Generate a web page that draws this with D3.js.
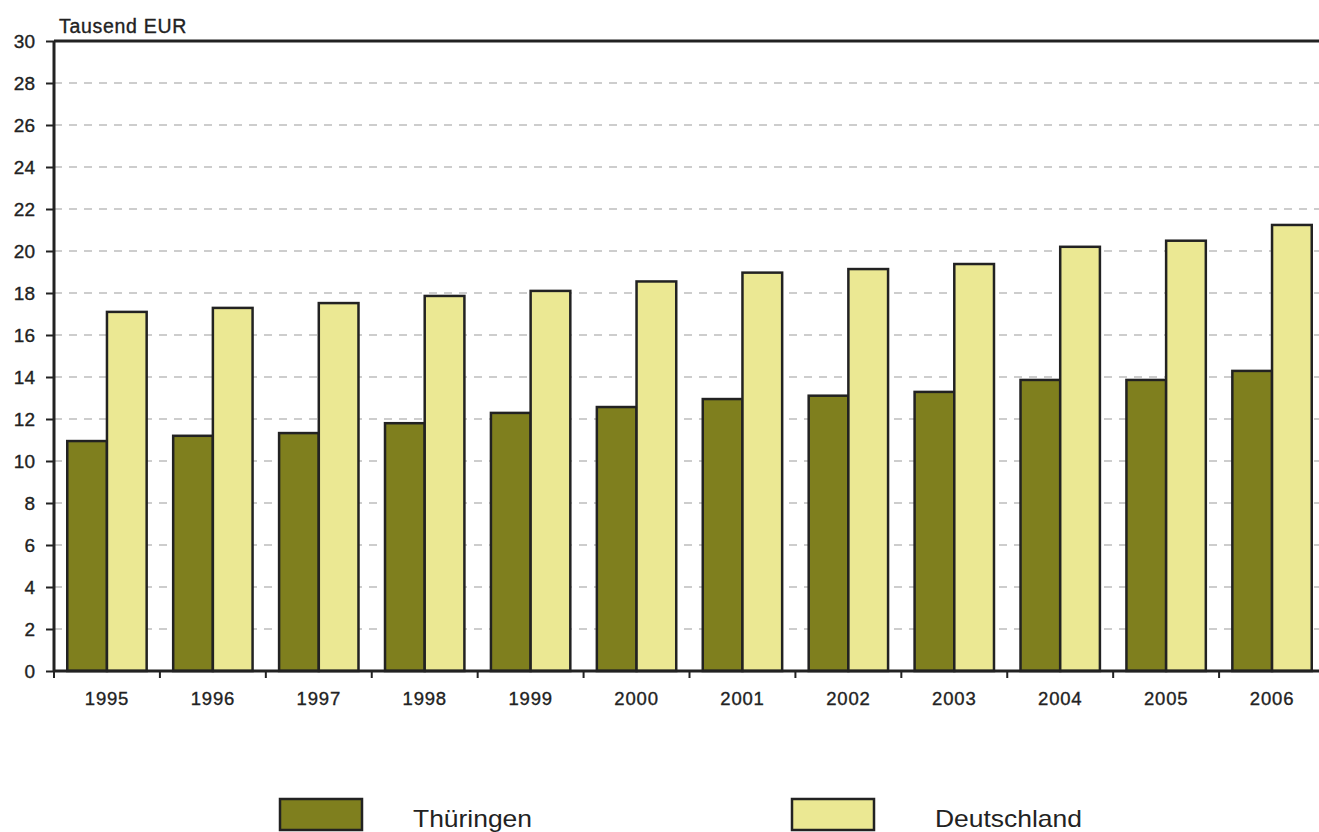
<!DOCTYPE html>
<html><head><meta charset="utf-8">
<script src="https://cdn.jsdelivr.net/npm/d3@7"></script>
<style>body{margin:0;background:#fff}svg{display:block}text{font-family:"Liberation Sans",Arial,sans-serif;fill:#222;stroke:#222;stroke-width:0.35px}text.leg{stroke:none}</style>
</head><body>
<script>
const years = ["1995","1996","1997","1998","1999","2000","2001","2002","2003","2004","2005","2006"];
const thueringen = [10.95,11.2,11.33,11.8,12.29,12.57,12.95,13.11,13.29,13.86,13.86,14.29];
const deutschland = [17.1,17.29,17.52,17.86,18.1,18.55,18.97,19.14,19.38,20.2,20.49,21.24];
const seriesNames = ["Thüringen","Deutschland"];
const colors = ["#7f7f1e","#ebe893"];
const yTicks = d3.range(0,31,2);

const W=1319,H=832;
const m={left:54,top:41,bottom:161};
const plotRight=1325;
const svg=d3.select("body").append("svg").attr("width",W).attr("height",H);
const x=d3.scaleBand().domain(years).range([m.left,plotRight]).paddingInner(0).paddingOuter(0);
const y=d3.scaleLinear().domain([0,30]).range([H-m.bottom,m.top]);
const xs=d3.scaleBand().domain(seriesNames).range([0,x.bandwidth()]).paddingInner(0).paddingOuter(0.334);

// grid
svg.append("g").selectAll("line").data(yTicks.filter(d=>d>0&&d<30)).join("line")
  .attr("x1",m.left).attr("x2",W).attr("y1",d=>y(d)).attr("y2",d=>y(d))
  .attr("stroke","#bdbdbd").attr("stroke-width",1.5).attr("stroke-dasharray","8,7");

// bars
const data=years.map((yr,i)=>({yr,vals:[thueringen[i],deutschland[i]]}));
const g=svg.append("g").selectAll("g").data(data).join("g").attr("transform",d=>`translate(${x(d.yr)},0)`);
g.selectAll("rect").data(d=>d.vals.map((v,j)=>({v,s:seriesNames[j],j}))).join("rect")
  .attr("x",d=>xs(d.s)).attr("width",xs.bandwidth())
  .attr("y",d=>y(d.v)).attr("height",d=>y(0)-y(d.v))
  .attr("fill",d=>colors[d.j]).attr("stroke","#222").attr("stroke-width",2.5);

// top border
svg.append("line").attr("x1",m.left).attr("x2",W).attr("y1",y(30)).attr("y2",y(30)).attr("stroke","#222").attr("stroke-width",3);

// y axis
const ya=svg.append("g").attr("transform",`translate(${m.left},0)`)
  .call(d3.axisLeft(y).tickValues(yTicks).tickSize(8).tickPadding(11).tickFormat(d3.format("d")));
ya.select(".domain").attr("stroke","#222").attr("stroke-width",3).attr("d",`M0,${y(0)}V${y(30)}`);
ya.selectAll(".tick line").attr("stroke","#222").attr("stroke-width",2);
ya.selectAll("text").style("font-size","19px").attr("fill","#222");

// x axis
const xa=svg.append("g").attr("transform",`translate(0,${y(0)})`)
  .call(d3.axisBottom(x).tickSize(0).tickPadding(21));
xa.select(".domain").attr("stroke","#222").attr("stroke-width",3).attr("d",`M${m.left},0H${W}`);
xa.selectAll("text").style("font-size","18.5px").style("letter-spacing","0.8px").attr("fill","#222");
svg.append("g").selectAll("line").data(years).join("line")
  .attr("x1",d=>x(d)).attr("x2",d=>x(d)).attr("y1",y(0)).attr("y2",y(0)+7)
  .attr("stroke","#222").attr("stroke-width",2);

// unit label
svg.append("text").attr("x",59).attr("y",33).style("font-size","19.5px").style("letter-spacing","0.7px").text("Tausend EUR");

// legend
const legX=[280,792], legTX=[413,935];
seriesNames.forEach((s,i)=>{
  svg.append("rect").attr("x",legX[i]).attr("y",799).attr("width",82).attr("height",31)
    .attr("fill",colors[i]).attr("stroke","#222").attr("stroke-width",2.5);
  svg.append("text").attr("class","leg").attr("transform",`translate(${legTX[i]},827) scale(1.15,1)`).style("font-size","23px").text(s);
});
</script>
</body></html>
